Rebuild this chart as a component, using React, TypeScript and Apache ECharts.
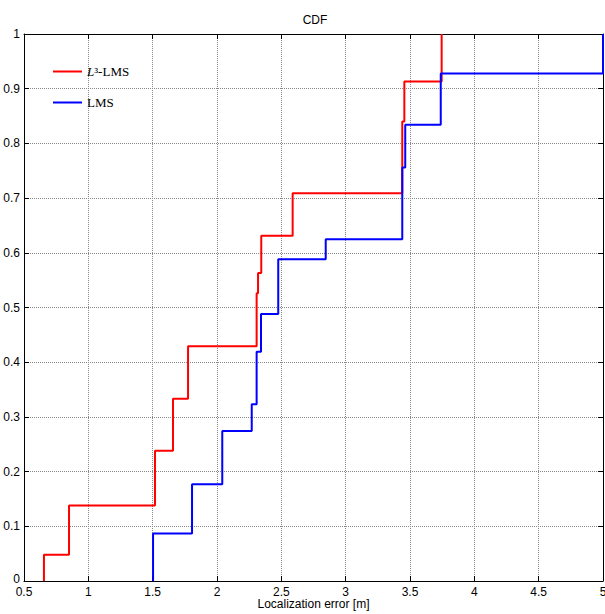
import React, { useEffect, useRef } from "react";
import * as echarts from "echarts";

const redX = [0.655, 0.655, 0.85, 1.518, 1.658, 1.775, 2.308, 2.319, 2.344, 2.588, 3.44, 3.456, 3.746];
const redY = [0, 0.048, 0.138, 0.238, 0.333, 0.429, 0.526, 0.563, 0.631, 0.709, 0.84, 0.913, 1.0];
const blueX = [1.503, 1.503, 1.806, 2.041, 2.27, 2.308, 2.342, 2.476, 2.845, 3.44, 3.463, 3.739, 5.0];
const blueY = [0, 0.087, 0.177, 0.274, 0.323, 0.419, 0.488, 0.588, 0.625, 0.756, 0.834, 0.928, 1.0];

const seriesNames = ["L³-LMS", "LMS"];
const titleText = "CDF";
const xAxisName = "Localization error [m]";

const sans = "'Liberation Sans', Arial, Helvetica, sans-serif";
const serif = "'Liberation Serif', 'DejaVu Serif', serif";

export default function App() {
  const ref = useRef<HTMLDivElement>(null);
  useEffect(() => {
    if (!ref.current) return;
    const chart = echarts.init(ref.current, undefined, { renderer: "svg" });
    const zip = (xs: number[], ys: number[]) => xs.map((x, i) => [x, ys[i]]);
    const gridLine = { show: true, lineStyle: { type: "dotted" as const, color: "#888", width: 1 } };
    const frameLine = { show: true, onZero: false, lineStyle: { color: "#000", width: 1 } };
    const tick = { show: true, inside: true, length: 5, lineStyle: { color: "#000" } };
    chart.setOption({
      animation: false,
      backgroundColor: "#fff",
      title: {
        text: titleText,
        left: 310,
        textAlign: "center",
        top: 9,
        textStyle: { fontSize: 12, fontWeight: "normal", color: "#000", fontFamily: sans },
      },
      legend: {
        orient: "vertical",
        left: 48,
        top: 60,
        itemWidth: 29,
        itemHeight: 2,
        itemGap: 18,
        icon: "rect",
        data: seriesNames,
        formatter: (name: string) => (name === seriesNames[0] ? "{i|L}{n|³-LMS}" : "{n|LMS}"),
        textStyle: {
          fontFamily: serif,
          fontSize: 13,
          color: "#000",
          rich: {
            i: { fontStyle: "italic", fontFamily: serif, fontSize: 13, color: "#000" },
            n: { fontFamily: serif, fontSize: 13, color: "#000" },
          },
        },
      },
      grid: { left: 24, right: 2, top: 34, bottom: 33, containLabel: false, outerBoundsMode: "none" },
      xAxis: [
        {
          type: "value",
          min: 0.5,
          max: 5,
          interval: 0.5,
          name: xAxisName,
          nameLocation: "middle",
          nameGap: 17,
          nameMoveOverlap: false,
          nameTextStyle: { fontSize: 12, lineHeight: 12, color: "#000", fontFamily: sans },
          axisLine: frameLine,
          axisTick: tick,
          axisLabel: {
            fontSize: 12,
            lineHeight: 12,
            color: "#000",
            fontFamily: sans,
            margin: 5,
            showMaxLabel: true,
            showMinLabel: true,
            hideOverlap: false,
          },
          splitLine: gridLine,
        },
        {
          type: "value",
          position: "top",
          min: 0.5,
          max: 5,
          interval: 0.5,
          axisLine: frameLine,
          axisTick: tick,
          axisLabel: { show: false },
          splitLine: { show: false },
        },
      ],
      yAxis: [
        {
          type: "value",
          min: 0,
          max: 1,
          interval: 0.1,
          axisLine: frameLine,
          axisTick: tick,
          axisLabel: {
            fontSize: 12,
            lineHeight: 12,
            color: "#000",
            fontFamily: sans,
            margin: 4,
            formatter: (v: number) => (v === 0 ? "{z|0}" : String(Math.round(v * 10) / 10)),
            rich: { z: { fontSize: 12, lineHeight: 12, color: "#000", fontFamily: sans, padding: [0, 0, 5, 0] } },
          },
          splitLine: gridLine,
        },
        {
          type: "value",
          position: "right",
          min: 0,
          max: 1,
          interval: 0.1,
          axisLine: frameLine,
          axisTick: tick,
          axisLabel: { show: false },
          splitLine: { show: false },
        },
      ],
      series: [
        {
          name: seriesNames[0],
          type: "line",
          step: "end",
          data: zip(redX, redY),
          showSymbol: false,
          symbol: "none",
          color: "#ff0000",
          lineStyle: { color: "#ff0000", width: 2 },
          clip: true,
        },
        {
          name: seriesNames[1],
          type: "line",
          step: "end",
          data: zip(blueX, blueY),
          showSymbol: false,
          symbol: "none",
          color: "#0000ff",
          lineStyle: { color: "#0000ff", width: 2 },
          clip: false,
        },
      ],
    });
    return () => chart.dispose();
  }, []);
  return (
    <div
      ref={ref}
      style={{ position: "fixed", left: 0, top: 0, width: 605, height: 614, background: "#fff" }}
    />
  );
}
